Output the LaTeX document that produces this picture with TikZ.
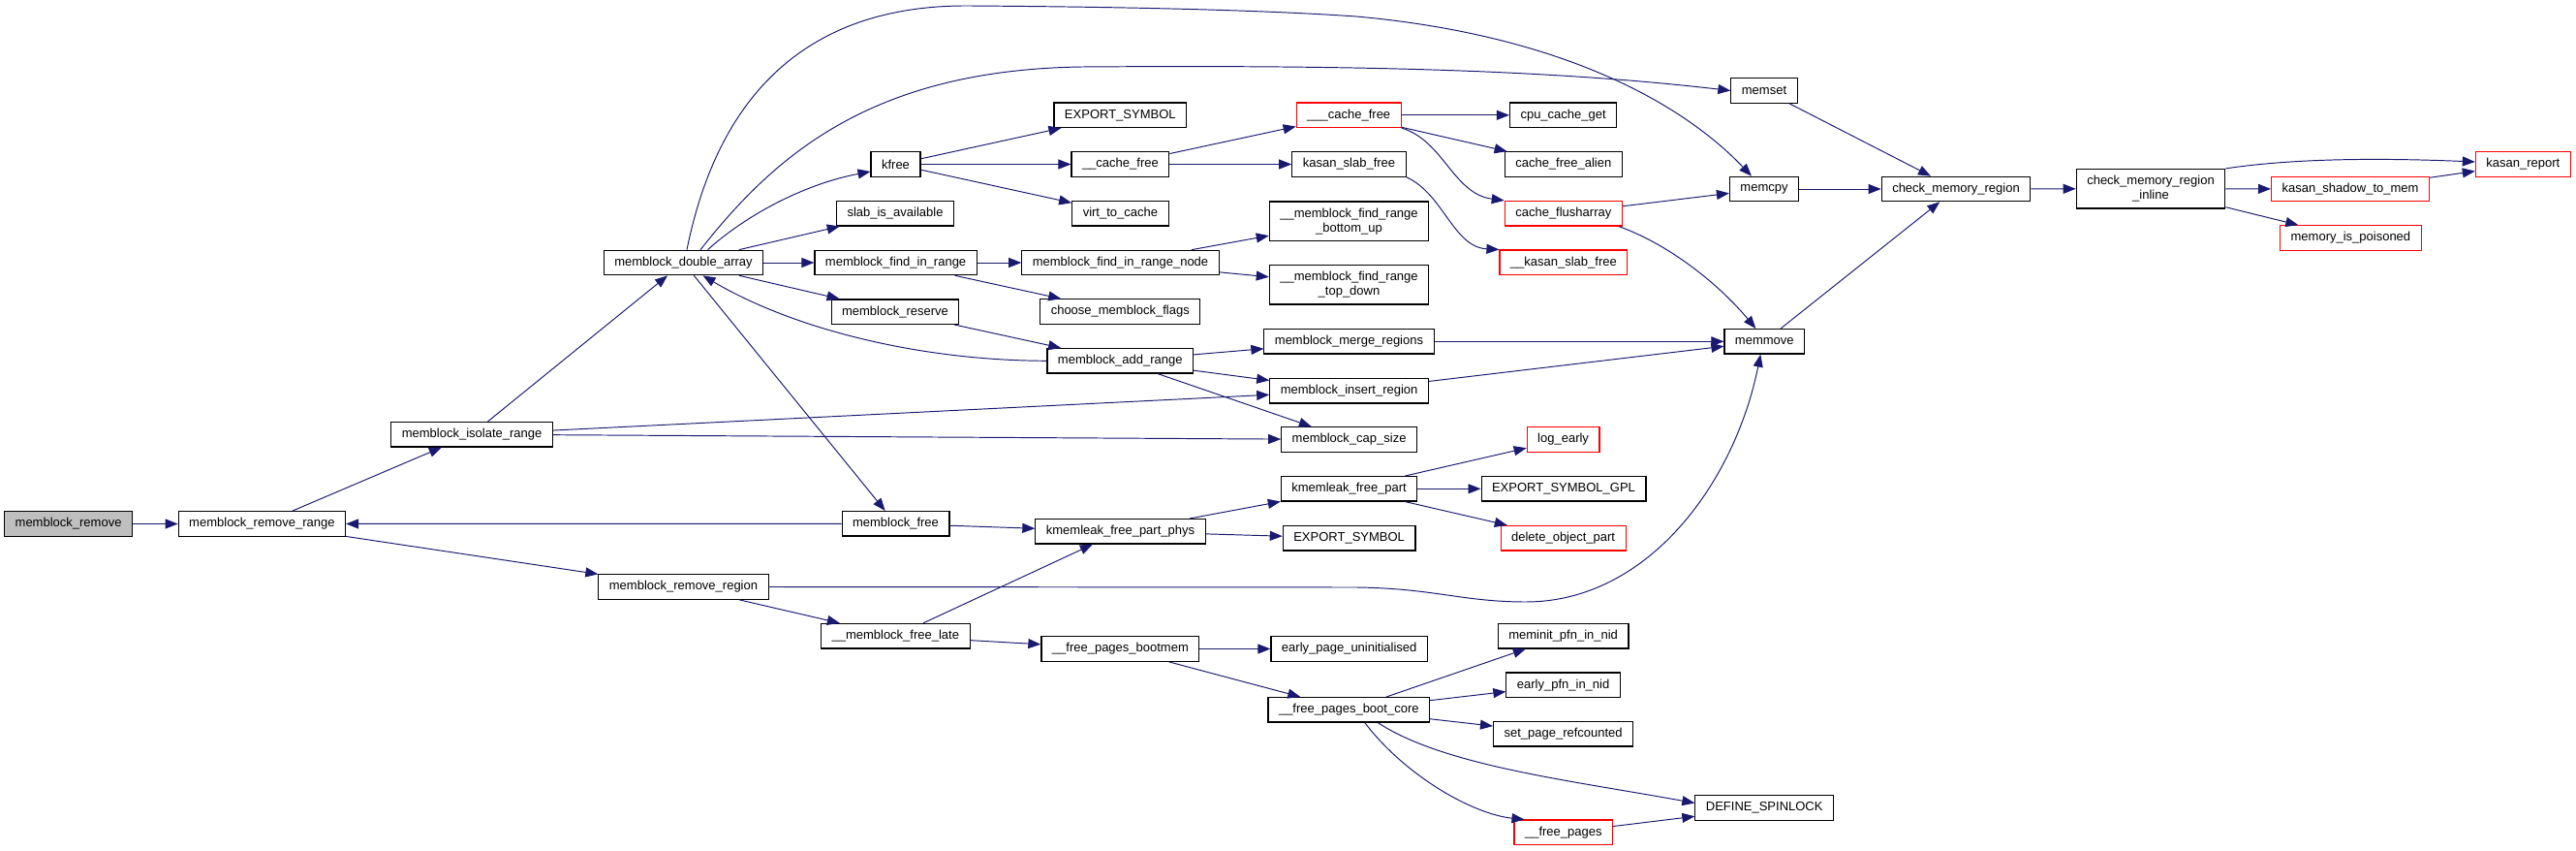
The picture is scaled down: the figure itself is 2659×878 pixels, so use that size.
\documentclass[tikz,border=0pt]{standalone}
\usepackage{fontspec}
\setmainfont{Liberation Sans}
\usetikzlibrary{arrows.meta}

\definecolor{edgeblue}{HTML}{191970}
\definecolor{rootgray}{HTML}{BFBFBF}
\newcommand{\fnfont}{\fontsize{7.4}{8.6}\selectfont}

\tikzset{
  fn/.style={draw=black, line width=0.65pt, fill=white, inner xsep=0.22cm, inner ysep=0pt,
    minimum height=0.51cm, font=\fnfont, align=center},
  fntwo/.style={fn, minimum height=0.81cm},
  fnred/.style={fn, draw=red},
  fnroot/.style={fn, fill=rootgray},
  call/.style={draw=edgeblue, line width=0.55pt, -{Triangle[length=0.26cm,width=0.2cm]}}
}

\begin{document}
\begin{tikzpicture}[x=0.02cm,y=-0.02cm]
  \useasboundingbox (0,0) rectangle (2659,878);
  \node[fnroot] (root) at (70.6,540.5) {memblock\_remove};
  \node[fn] (mrr) at (270.4,540.5) {memblock\_remove\_range};
  \node[fn] (mir) at (487.1,448.2) {memblock\_isolate\_range};
  \node[fn] (mrg) at (705.5,605.5) {memblock\_remove\_region};
  \node[fn] (mfl) at (924.3,656.2) {\_\_memblock\_free\_late};
  \node[fn] (mda) at (705.5,271) {memblock\_double\_array};
  \node[fn] (mfr) at (924.5,540.3) {memblock\_free};
  \node[fn] (kfr) at (924.5,169.5) {kfree};
  \node[fn] (sia) at (924,220.2) {slab\_is\_available};
  \node[fn] (mfi) at (924.6,271) {memblock\_find\_in\_range};
  \node[fn] (mrs) at (924,321.7) {memblock\_reserve};
  \node[fn] (exs) at (1156.3,118.8) {EXPORT\_SYMBOL};
  \node[fn] (cfr) at (1156.4,169.5) {\_\_cache\_free};
  \node[fn] (vtc) at (1156.4,220.2) {virt\_to\_cache};
  \node[fn] (fin) at (1156.5,271) {memblock\_find\_in\_range\_node};
  \node[fn] (cmf) at (1156.3,321.5) {choose\_memblock\_flags};
  \node[fn] (mar) at (1156.3,372.3) {memblock\_add\_range};
  \node[fn] (kpp) at (1156.5,548.3) {kmemleak\_free\_part\_phys};
  \node[fn] (fpb) at (1156.4,669.5) {\_\_free\_pages\_bootmem};
  \node[fnred] (ccf) at (1392.2,118.8) {\_\_\_cache\_free};
  \node[fn] (ksf) at (1392.5,169.5) {kasan\_slab\_free};
  \node[fntwo] (fbu) at (1392.5,228.2) {\_\_memblock\_find\_range\\\_bottom\_up};
  \node[fntwo] (ftd) at (1392.5,293.7) {\_\_memblock\_find\_range\\\_top\_down};
  \node[fn] (mmr) at (1392.5,352.3) {memblock\_merge\_regions};
  \node[fn] (mig) at (1392.6,403.2) {memblock\_insert\_region};
  \node[fn] (mcs) at (1392.6,453.5) {memblock\_cap\_size};
  \node[fn] (kfp) at (1392.6,504.3) {kmemleak\_free\_part};
  \node[fn] (exs2) at (1392.6,555.2) {EXPORT\_SYMBOL};
  \node[fn] (epu) at (1392.7,669.5) {early\_page\_uninitialised};
  \node[fn] (fbc) at (1392.3,732.3) {\_\_free\_pages\_boot\_core};
  \node[fn] (ccg) at (1613.6,118.8) {cpu\_cache\_get};
  \node[fn] (cfa) at (1613.8,169.5) {cache\_free\_alien};
  \node[fnred] (cfl) at (1613.8,220.2) {cache\_flusharray};
  \node[fnred] (kks) at (1613.9,270.8) {\_\_kasan\_slab\_free};
  \node[fnred] (loe) at (1613.6,453.5) {log\_early};
  \node[fn] (esg) at (1614,504.3) {EXPORT\_SYMBOL\_GPL};
  \node[fnred] (dop) at (1613.6,555.2) {delete\_object\_part};
  \node[fn] (mpn) at (1613.6,656.2) {meminit\_pfn\_in\_nid};
  \node[fn] (epn) at (1613.6,706.8) {early\_pfn\_in\_nid};
  \node[fn] (spr) at (1613.6,757.3) {set\_page\_refcounted};
  \node[fnred] (fpg) at (1613.8,858.8) {\_\_free\_pages};
  \node[fn] (dsl) at (1821.2,833.5) {DEFINE\_SPINLOCK};
  \node[fn] (mst) at (1821,93.5) {memset};
  \node[fn] (mcp) at (1821,195) {memcpy};
  \node[fn] (mmv) at (1821.3,352.3) {memmove};
  \node[fn] (cmr) at (2019,195) {check\_memory\_region};
  \node[fntwo] (cmi) at (2220,194.7) {check\_memory\_region\\\_inline};
  \node[fnred] (krp) at (2604.3,169.5) {kasan\_report};
  \node[fnred] (kst) at (2426,195) {kasan\_shadow\_to\_mem};
  \node[fnred] (mip) at (2426.4,245.5) {memory\_is\_poisoned};

  \draw[call] (root) -- (mrr);
  \draw[call] (mrr) -- (mir);
  \draw[call] (mrr) -- (mrg);
  \draw[call] (mfr) -- (mrr);
  \draw[call] (mir) -- (mda);
  \draw[call] (mir) -- (mig);
  \draw[call] (mir) -- (mcs);
  \draw[call] ([xshift=0.07cm]mda.north) .. controls (745,80) and (850,5) .. (1000,6)
    .. controls (1150,7) and (1300,10) .. (1400,17)
    .. controls (1600,35) and (1730,100) .. ([xshift=-0.26cm]mcp.north);
  \draw[call] ([xshift=0.35cm]mda.north) .. controls (800,160) and (900,72) .. (1117,69)
    .. controls (1400,67) and (1600,72) .. (mst.west);
  \draw[call] ([xshift=0.5cm]mda.north) .. controls (770,222) and (830,190) .. ([yshift=-0.15cm]kfr.west);
  \draw[call] (mda) -- (sia);
  \draw[call] (mda) -- (mfi);
  \draw[call] (mda) -- (mrs);
  \draw[call] (mda) -- (mfr);
  \draw[call] (mar.west) .. controls (950,372) and (820,340) .. ([xshift=0.4cm]mda.south);
  \draw[call] (kfr) -- (exs);
  \draw[call] (kfr) -- (cfr);
  \draw[call] (kfr) -- (vtc);
  \draw[call] (cfr) -- (ccf);
  \draw[call] (cfr) -- (ksf);
  \draw[call] (ccf) -- (ccg);
  \draw[call] (ccf) -- (cfa);
  \draw[call] (ccf.south east) .. controls (1490,145) and (1500,200) .. (cfl.north west);
  \draw[call] (ksf.south east) .. controls (1490,200) and (1500,255) .. (kks.north west);
  \draw[call] (cfl) -- (mcp);
  \draw[call] ([xshift=-0.08cm]cfl.south east) .. controls (1730,255) and (1780,300) .. ([xshift=-0.18cm]mmv.north);
  \draw[call] (mfi) -- (fin);
  \draw[call] (mfi) -- (cmf);
  \draw[call] (fin) -- (fbu);
  \draw[call] (fin) -- (ftd);
  \draw[call] (mrs) -- (mar);
  \draw[call] (mar) -- (mmr);
  \draw[call] (mar) -- (mig);
  \draw[call] (mar) -- (mcs);
  \draw[call] (mmr) -- (mmv);
  \draw[call] (mig) -- (mmv);
  \draw[call] (mst) -- (cmr);
  \draw[call] (mcp) -- (cmr);
  \draw[call] (mmv) -- (cmr);
  \draw[call] (cmr) -- (cmi);
  \draw[call] (cmi.north east) .. controls (2370,163) and (2460,163) .. ([yshift=0.05cm]krp.west);
  \draw[call] (cmi) -- (kst);
  \draw[call] (cmi) -- (mip);
  \draw[call] (kst) -- (krp);
  \draw[call] (mrg.east) -- (1400,606) .. controls (1480,607) and (1510,621) .. (1575,621)
    .. controls (1700,621) and (1790,500) .. ([xshift=-0.08cm]mmv.south);
  \draw[call] (mrg) -- (mfl);
  \draw[call] (mfr) -- (kpp);
  \draw[call] (mfl) -- (kpp);
  \draw[call] (mfl) -- (fpb);
  \draw[call] (kpp) -- (kfp);
  \draw[call] (kpp) -- (exs2);
  \draw[call] (kfp) -- (loe);
  \draw[call] (kfp) -- (esg);
  \draw[call] (kfp) -- (dop);
  \draw[call] (fpb) -- (epu);
  \draw[call] (fpb) -- (fbc);
  \draw[call] (fbc) -- (mpn);
  \draw[call] (fbc) -- (epn);
  \draw[call] (fbc) -- (spr);
  \draw[call] ([xshift=0.6cm]fbc.south) .. controls (1490,790) and (1620,805) .. ([yshift=0.1cm]dsl.west);
  \draw[call] ([xshift=0.33cm]fbc.south) .. controls (1450,800) and (1520,840) .. ([xshift=0.22cm]fpg.north west);
  \draw[call] (fpg) -- (dsl);
\end{tikzpicture}
\end{document}
